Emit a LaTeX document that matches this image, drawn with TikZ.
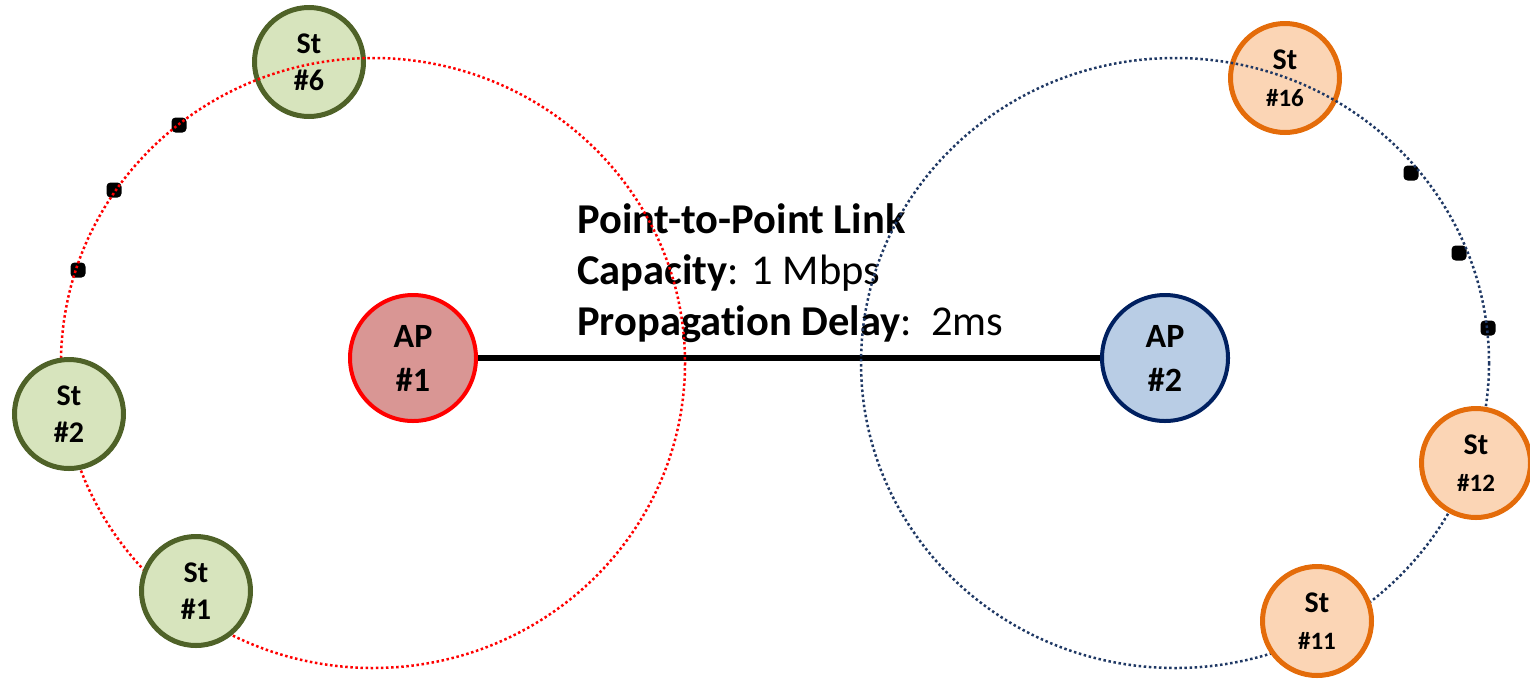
\documentclass[tikz,border=0pt]{standalone}
\usepackage{fontspec}
\setmainfont[Ligatures=NoCommon]{Carlito}
\definecolor{apredfill}{HTML}{D99694}
\definecolor{apbluefill}{HTML}{B9CDE5}
\definecolor{apblueline}{HTML}{002060}
\definecolor{stgreenfill}{HTML}{D7E4BD}
\definecolor{stgreenline}{HTML}{4F6228}
\definecolor{storangefill}{HTML}{FBD5B5}
\definecolor{storangeline}{HTML}{E46C0A}
\definecolor{rangeblue}{HTML}{1F3864}
\begin{document}
\begin{tikzpicture}[x=1pt,y=-1pt,
  apnode/.style={circle, line width=4pt, minimum size=126pt, inner sep=0pt, align=center,
    font=\fontsize{34}{44}\selectfont\bfseries},
  apred/.style={apnode, draw=red, fill=apredfill},
  apblue/.style={apnode, draw=apblueline, fill=apbluefill},
  stnode/.style={circle, line width=5pt, minimum size=109pt, inner sep=0pt, align=center,
    font=\fontsize{30}{37}\selectfont\bfseries},
  stgreen/.style={stnode, draw=stgreenline, fill=stgreenfill},
  storange/.style={stnode, draw=storangeline, fill=storangefill},
  rangecircle/.style={line width=2.5pt, dash pattern=on 2.5pt off 2.6pt},
  moredot/.style={fill=black, rounded corners=4pt, minimum size=15pt, inner sep=0pt, rectangle},
  linktext/.style={anchor=base west, inner sep=0pt, font=\fontsize{42.5}{48}\selectfont}
]
\useasboundingbox (0,0) rectangle (1530,678);

% ellipsis dots
\node[moredot] (d1) at (179,125) {};
\node[moredot] (d2) at (114,190) {};
\node[moredot] (d3) at (78,270) {};
\node[moredot] (d4) at (1411,173) {};
\node[moredot] (d5) at (1459,253) {};
\node[moredot] (d6) at (1488,328) {};

% stations under the range circles
\node[stgreen] (st6) at (309,62) {St\\\#6};
\node[storange] (st16) at (1285,78) {St\\\fontsize{25}{32}\selectfont\#16};

% access points and link
\node[apred] (ap1) at (413,358) {AP\\\#1};
\node[apblue] (ap2) at (1165,358) {AP\\\#2};
\draw[line width=6pt] (ap1) -- (ap2);

% link text
\node[linktext] (t1) at (577,233) {\textbf{Point-to-Point Link}};
\node[linktext] (t2) at (577,284) {\textbf{Capacity}: 1 Mbps};
\node[linktext] (t3) at (577,335) {\textbf{Propagation Delay}:\ \ 2ms};

% range circles
\draw[rangecircle, red] (373,363) ellipse [x radius=312, y radius=305];
\draw[rangecircle, rangeblue] (1175,363) ellipse [x radius=314, y radius=305];

% stations over the range circles
\node[stgreen] (st2) at (69,414) {St\\\#2};
\node[stgreen] (st1) at (196,591) {St\\\#1};
\node[storange] (st12) at (1476,463) {St\\\fontsize{25}{32}\selectfont\#12};
\node[storange] (st11) at (1317,621) {St\\\fontsize{25}{32}\selectfont\#11};
\end{tikzpicture}
\end{document}
